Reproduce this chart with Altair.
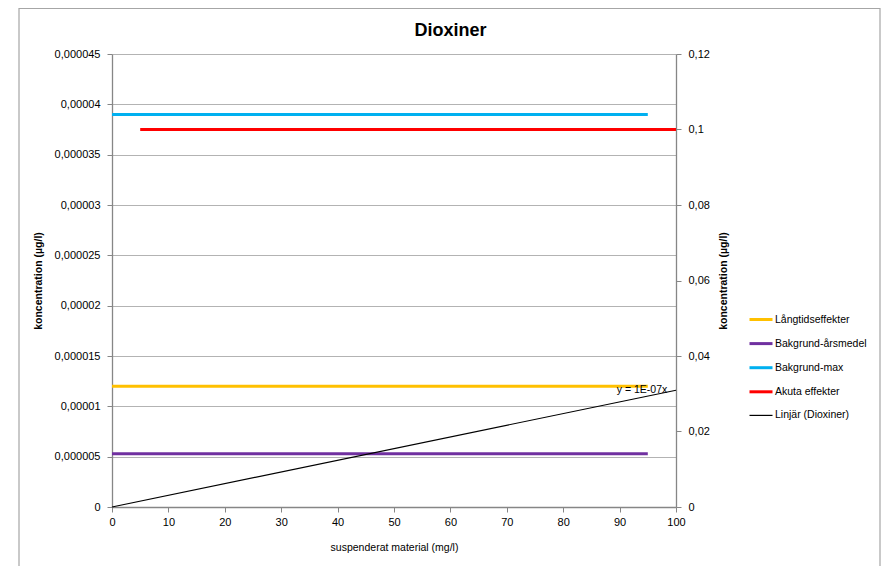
import altair as alt
import pandas as pd

# ---- data ----
series_order = ["Långtidseffekter", "Bakgrund-årsmedel", "Bakgrund-max",
                "Akuta effekter", "Linjär (Dioxiner)"]
series_colors = ["#FFC000", "#7030A0", "#00B0F0", "#FF0000", "#000000"]
series_widths = [3, 3, 3, 3, 1.2]

left_series = ["Långtidseffekter", "Bakgrund-årsmedel", "Bakgrund-max"]
left_values = [0.000012, 0.0000053, 0.000039]
left_x = [0, 95]

acute_series = "Akuta effekter"
acute_value = 0.1          # secondary axis
acute_x = [5, 100]

trend_series = "Linjär (Dioxiner)"
trend_x = [0, 100]
trend_y = [0, 0.0000116]

trend_label = ["y = 1E-07x"]
trend_label_x = [89.5]
trend_label_y = [0.0000116]

x_ticks = list(range(0, 101, 10))
left_ticks = [0, 0.000005, 0.00001, 0.000015, 0.00002, 0.000025,
              0.00003, 0.000035, 0.00004, 0.000045]
right_ticks = [0, 0.02, 0.04, 0.06, 0.08, 0.1, 0.12]

# ---- tables ----
rows = []
for s, v in zip(left_series, left_values):
    for xv in left_x:
        rows.append({"series": s, "x": xv, "y": v})
for xv, yv in zip(trend_x, trend_y):
    rows.append({"series": trend_series, "x": xv, "y": yv})
df_left = pd.DataFrame(rows)
df_right = pd.DataFrame([{"series": acute_series, "x": xv, "y": acute_value} for xv in acute_x])
df_label = pd.DataFrame({"x": trend_label_x, "y": trend_label_y, "label": trend_label})

FONT = "Liberation Sans"
AX = "#868686"

x_scale = alt.Scale(domain=[0, 100], nice=False, zero=False)
left_scale = alt.Scale(domain=[0, 0.000045], nice=False)
right_scale = alt.Scale(domain=[0, 0.12], nice=False)

color_enc = alt.Color("series:N",
                      scale=alt.Scale(domain=series_order, range=series_colors),
                      legend=alt.Legend(title=None))
width_enc = alt.StrokeWidth("series:N",
                            scale=alt.Scale(type="ordinal", domain=series_order,
                                            range=series_widths),
                            legend=alt.Legend(title=None))

x_axis = alt.Axis(values=x_ticks, title="suspenderat material (mg/l)", grid=False,
                  tickSize=5, labelPadding=4, titlePadding=15, labelFlush=False,
                  titleFontWeight="normal")

lines_left = alt.Chart(df_left).mark_line().encode(
    x=alt.X("x:Q", scale=x_scale, axis=x_axis),
    y=alt.Y("y:Q", scale=left_scale,
            axis=alt.Axis(orient="left", values=left_ticks, format=".6~f",
                          labelExpr="replace(datum.label, '.', ',')",
                          grid=True, gridColor="#b3b3b3",
                          tickSize=5, labelPadding=7,
                          title="koncentration (µg/l)", titlePadding=11)),
    color=color_enc,
    strokeWidth=width_enc,
)

label_layer = alt.Chart(df_label).mark_text(
    align="left", baseline="middle", fontSize=10.5, font=FONT, color="#000000"
).encode(
    x=alt.X("x:Q", scale=x_scale),
    y=alt.Y("y:Q", scale=left_scale),
    text="label:N",
)

left_part = alt.layer(lines_left, label_layer)

right_part = alt.Chart(df_right).mark_line().encode(
    x=alt.X("x:Q", scale=x_scale),
    y=alt.Y("y:Q", scale=right_scale,
            axis=alt.Axis(orient="right", values=right_ticks, format=".2~f",
                          labelExpr="replace(datum.label, '.', ',')",
                          grid=False, tickSize=5, labelPadding=7,
                          title="koncentration (µg/l)", titleAngle=270,
                          titlePadding=19)),
    color=color_enc,
    strokeWidth=width_enc,
)

frame = alt.Chart(alt.Data(values=[{"k": 1}])).mark_rect(
    fillOpacity=0, stroke="#a6a6a6", strokeWidth=1.2
).encode(
    x=alt.value(-93), x2=alt.value(768), y=alt.value(-45.5), y2=alt.value(530)
)

title = alt.Chart(alt.Data(values=[{"t": "Dioxiner"}])).mark_text(
    align="center", baseline="alphabetic", fontSize=18, fontWeight="bold",
    font=FONT, color="#000000"
).encode(x=alt.value(338.5), y=alt.value(-18.5), text="t:N")

chart = alt.layer(frame, left_part, right_part, title).resolve_scale(
    y="independent"
).properties(
    width=564, height=453,
    padding={"left": 104, "top": 46, "right": 206, "bottom": 60},
    autosize=alt.AutoSizeParams(type="none"),
).configure_view(stroke=None).configure_axis(
    domainColor=AX, tickColor=AX, domainWidth=1.3,
    labelFont=FONT, labelFontSize=11, labelColor="#000000",
    titleFont=FONT, titleFontSize=10.5, titleFontWeight="bold", titleColor="#000000",
).configure_legend(
    orient="none", legendX=636, legendY=252.5,
    symbolType="stroke", symbolSize=529, labelOffset=1, rowPadding=5.1,
    labelFont=FONT, labelFontSize=10.5, labelColor="#000000",
    padding=0,
)

chart.save("out.html", embed_options={"renderer": "svg", "actions": False})
